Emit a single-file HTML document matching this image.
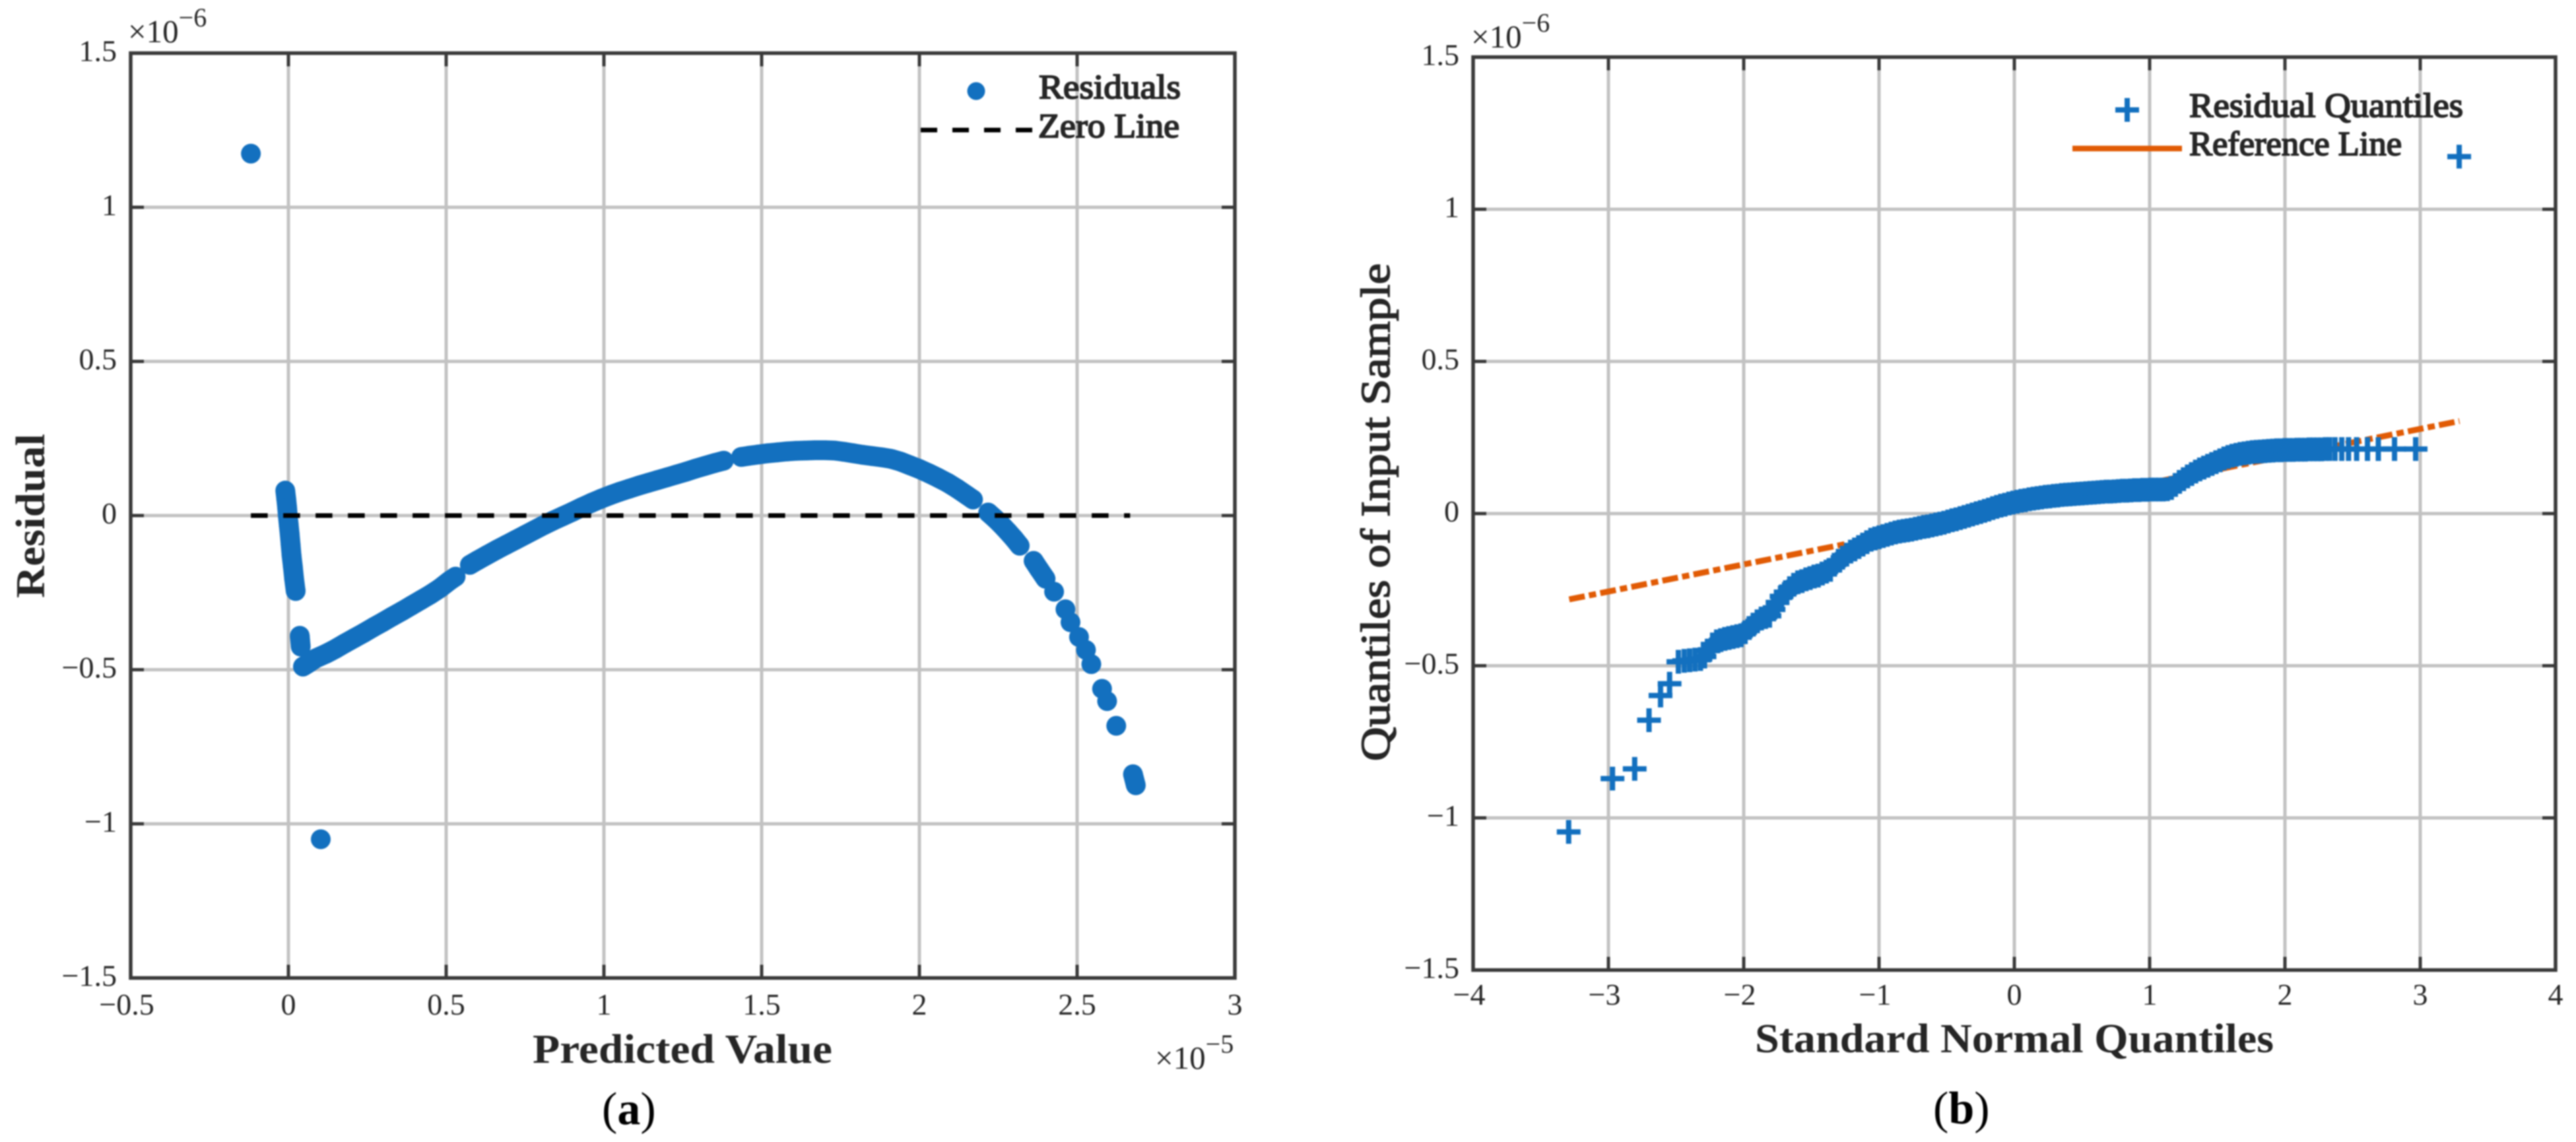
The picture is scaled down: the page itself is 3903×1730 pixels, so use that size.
<!DOCTYPE html>
<html lang="en">
<head>
<meta charset="utf-8">
<title>Residual plot and Q-Q plot</title>
<style>
html,body{margin:0;padding:0;background:#fff;}
body{width:3903px;height:1730px;overflow:hidden;}
svg{display:block;filter:blur(1px);}
text{font-family:"Liberation Serif",serif;fill:#262626;}
.tick{font-size:46px;}
.axis-title{font-size:62px;font-weight:bold;}
.axis-title-medium{font-size:62px;stroke:#262626;stroke-width:1.6px;}
.legend-text{font-size:52px;stroke:#262626;stroke-width:2px;}
.exp{font-size:49px;}
.exp-sup{font-size:40px;}
.caption{font-size:70px;fill:#000;}
</style>
</head>
<body>
<svg xmlns="http://www.w3.org/2000/svg" width="3903" height="1730" viewBox="0 0 3903 1730">
  <rect width="3903" height="1730" fill="#fff"/>

  <g id="panel-a">
    <g id="a-grid"></g>
    <g id="a-points"></g>
    <g id="a-zero"></g>
    <g id="a-axes"></g>
    <g id="a-labels"></g>
    <text class="exp" x="194" y="64">×10<tspan class="exp-sup" dy="-24">−6</tspan></text>
    <text class="exp" x="1750" y="1619">×10<tspan class="exp-sup" dy="-24">−5</tspan></text>
    <text class="axis-title" x="807" y="1610" textLength="454" lengthAdjust="spacingAndGlyphs">Predicted Value</text>
    <text class="axis-title" transform="translate(67,906) rotate(-90)" textLength="249" lengthAdjust="spacingAndGlyphs">Residual</text>
    <circle cx="1479" cy="138" r="13.5" fill="#1370bf"/>
    <text class="legend-text" x="1574" y="149" textLength="215" lengthAdjust="spacingAndGlyphs">Residuals</text>
    <line x1="1395" y1="197" x2="1565" y2="197" stroke="#000" stroke-width="7" stroke-dasharray="25 23"/>
    <text class="legend-text" x="1573" y="208" textLength="214" lengthAdjust="spacingAndGlyphs">Zero Line</text>
    <text class="caption" x="912" y="1703">(<tspan font-weight="bold">a</tspan>)</text>
  </g>

  <g id="panel-b">
    <g id="b-grid"></g>
    <g id="b-ref"></g>
    <g id="b-points"></g>
    <g id="b-axes"></g>
    <g id="b-labels"></g>
    <text class="exp" x="2229" y="72">×10<tspan class="exp-sup" dy="-24">−6</tspan></text>
    <text class="axis-title" x="2659" y="1594" textLength="786" lengthAdjust="spacingAndGlyphs">Standard Normal Quantiles</text>
    <text class="axis-title-medium" transform="translate(2105,1153) rotate(-90)" textLength="754" lengthAdjust="spacingAndGlyphs">Quantiles of Input Sample</text>
    <path d="M3205 166.5H3241M3223 148.5V184.5" stroke="#1370bf" stroke-width="8" fill="none"/>
    <text class="legend-text" x="3317" y="177" textLength="415" lengthAdjust="spacingAndGlyphs">Residual Quantiles</text>
    <line x1="3140" y1="225" x2="3306" y2="225" stroke="#e15b05" stroke-width="8.5"/>
    <text class="legend-text" x="3317" y="235" textLength="322" lengthAdjust="spacingAndGlyphs">Reference Line</text>
    <text class="caption" x="2929" y="1702">(<tspan font-weight="bold">b</tspan>)</text>
  </g>
</svg>

<script>
// ---------- panel (a) data: x in units of 1e-5, y in units of 1e-6 ----------
const aXTicks = [-0.5, 0, 0.5, 1, 1.5, 2, 2.5, 3];
const aXTickLabels = ["−0.5", "0", "0.5", "1", "1.5", "2", "2.5", "3"];
const yTicks = [-1.5, -1, -0.5, 0, 0.5, 1, 1.5];
const yTickLabels = ["−1.5", "−1", "−0.5", "0", "0.5", "1", "1.5"];

const residX = [-0.119, 0.1025,
  -0.010,-0.007,-0.004,-0.002,0.001,0.004,0.007,0.010,0.014,0.018,0.023,0.036,0.039,
  0.046,0.065,0.085,0.12,0.15,0.18,0.21,0.24,0.27,0.30,0.33,0.36,0.39,0.42,0.45,0.48,0.51,0.53,
  0.575,0.60,0.63,0.66,0.69,0.72,0.75,0.78,0.81,0.84,0.87,0.90,0.93,0.96,0.99,1.02,1.05,1.08,1.11,1.14,1.17,1.20,1.23,1.26,1.29,1.32,1.35,1.38,
  1.435,1.46,1.49,1.52,1.55,1.58,1.61,1.64,1.67,1.70,1.73,1.76,1.79,1.82,1.85,1.88,1.91,1.94,1.97,2.00,2.03,2.06,2.09,2.12,2.15,2.17,
  2.218,2.24,2.26,2.28,2.30,2.318,
  2.362,2.38,2.40,2.427,2.463,2.479,2.506,2.528,2.545,2.579,2.595,2.624,2.677,2.686];
const residY = [1.174, -1.05,
  0.081,0.055,0.025,0.000,-0.030,-0.060,-0.095,-0.130,-0.165,-0.205,-0.245,-0.390,-0.425,
  -0.490,-0.478,-0.464,-0.448,-0.432,-0.414,-0.397,-0.380,-0.362,-0.345,-0.327,-0.310,-0.292,-0.274,-0.256,-0.236,-0.212,-0.198,
  -0.160,-0.145,-0.128,-0.111,-0.095,-0.079,-0.063,-0.047,-0.031,-0.016,-0.002,0.012,0.027,0.041,0.054,0.066,0.077,0.087,0.097,0.106,0.115,0.124,0.133,0.142,0.152,0.161,0.170,0.178,
  0.190,0.194,0.198,0.202,0.205,0.208,0.210,0.211,0.212,0.212,0.211,0.207,0.202,0.197,0.193,0.189,0.184,0.175,0.163,0.151,0.137,0.122,0.106,0.087,0.066,0.052,
  0.010,-0.010,-0.030,-0.052,-0.075,-0.098,
  -0.147,-0.175,-0.205,-0.247,-0.304,-0.346,-0.394,-0.436,-0.482,-0.562,-0.602,-0.682,-0.839,-0.875];
const zeroLineX = [-0.119, 2.668];
const zeroLineY = [0, 0];

// ---------- panel (b) data: x = normal quantile, y in units of 1e-6 ----------
const bXTicks = [-4, -3, -2, -1, 0, 1, 2, 3, 4];
const bXTickLabels = ["−4", "−3", "−2", "−1", "0", "1", "2", "3", "4"];
const qqX = [-3.294,-2.97,-2.806,-2.70,-2.615,-2.548,-2.483,-2.44,-2.40,-2.36,-2.32,-2.29,
  -2.26,-2.23,-2.20,-2.17,-2.14,-2.11,-2.08,-2.05,-2.02,-1.99,-1.96,-1.93,-1.90,-1.87,-1.84,-1.81,-1.78,-1.75,-1.72,-1.69,-1.66,-1.63,-1.60,-1.57,-1.54,-1.51,-1.48,-1.45,-1.42,-1.39,-1.36,-1.33,-1.30,-1.27,-1.24,-1.21,-1.18,-1.15,-1.12,-1.09,-1.06,-1.03,-1.00,-0.97,-0.94,-0.91,-0.88,-0.85,
  -0.82,-0.79,-0.76,-0.73,-0.70,-0.67,-0.64,-0.61,-0.58,-0.55,-0.52,-0.49,-0.46,-0.43,-0.40,-0.37,-0.34,-0.31,-0.28,-0.25,-0.22,-0.19,-0.16,-0.13,-0.10,-0.07,-0.04,-0.01,0.02,0.05,0.08,0.11,0.14,0.17,0.20,0.23,0.26,0.29,0.32,0.35,0.38,0.41,0.44,0.47,0.50,0.53,0.56,0.59,0.62,0.65,0.68,0.71,0.74,0.77,0.80,0.83,0.86,0.89,0.92,0.95,0.98,1.01,1.04,1.07,1.10,1.13,1.16,1.19,1.22,1.25,1.28,1.31,1.34,1.37,1.40,1.43,1.46,1.49,1.52,1.55,1.58,1.61,1.64,1.67,1.70,1.73,1.76,1.79,1.82,1.85,1.88,1.91,1.94,1.97,2.00,2.03,2.06,2.09,2.12,2.15,2.18,2.21,2.24,2.27,2.30,2.33,2.37,2.42,2.47,2.53,2.61,2.69,2.81,2.966,3.288];
const qqY = [-1.046,-0.871,-0.839,-0.679,-0.598,-0.559,-0.487,-0.484,-0.482,-0.480,-0.478,-0.470,
  -0.450,-0.430,-0.420,-0.416,-0.412,-0.409,-0.406,-0.403,-0.400,-0.390,-0.376,-0.365,-0.354,-0.345,-0.340,-0.336,-0.315,-0.292,-0.272,-0.258,-0.245,-0.234,-0.226,-0.222,-0.216,-0.212,-0.207,-0.204,-0.197,-0.191,-0.185,-0.168,-0.155,-0.145,-0.135,-0.125,-0.118,-0.110,-0.102,-0.094,-0.086,-0.082,-0.078,-0.074,-0.070,-0.066,-0.062,-0.059,
  -0.057,-0.055,-0.053,-0.050,-0.047,-0.044,-0.042,-0.039,-0.036,-0.033,-0.030,-0.026,-0.022,-0.019,-0.015,-0.011,-0.007,-0.003,0.001,0.005,0.009,0.013,0.018,0.022,0.026,0.029,0.033,0.036,0.039,0.042,0.044,0.047,0.049,0.051,0.053,0.055,0.056,0.058,0.059,0.061,0.062,0.063,0.064,0.065,0.066,0.067,0.068,0.069,0.070,0.071,0.072,0.072,0.073,0.074,0.075,0.075,0.076,0.077,0.077,0.078,0.078,0.079,0.079,0.079,0.079,0.080,0.084,0.094,0.104,0.113,0.122,0.130,0.138,0.145,0.151,0.157,0.163,0.169,0.175,0.181,0.186,0.190,0.193,0.196,0.198,0.200,0.202,0.203,0.204,0.205,0.206,0.207,0.208,0.208,0.209,0.209,0.209,0.210,0.210,0.210,0.211,0.211,0.211,0.211,0.212,0.212,0.212,0.212,0.212,0.212,0.212,0.212,0.212,0.212,1.173];
const refLineX = [-3.29, 3.29];
const refLineY = [-0.282, 0.304];

// ---------- axis functions ----------
const NS = "http://www.w3.org/2000/svg";
const ax = v => 198 + (v + 0.5) * 478;
const ay = v => 781 - v * 467;
const bx = v => 3052 + v * 205;
const by = v => 778 - v * 461;

function make(tag, attrs, parent) {
  const el = document.createElementNS(NS, tag);
  for (const k in attrs) el.setAttribute(k, attrs[k]);
  parent.appendChild(el);
  return el;
}

function drawFrame(gridG, axesG, labelsG, sx, sy, xTicks, xLabels, xLabelY) {
  const L = sx(xTicks[0]), R = sx(xTicks[xTicks.length - 1]);
  const T = sy(yTicks[yTicks.length - 1]), B = sy(yTicks[0]);
  const gridStyle = {stroke: "#c2c2c2", "stroke-width": 5};
  const tickStyle = {stroke: "#3a3a3a", "stroke-width": 5};

  xTicks.forEach((v, i) => {
    const x = sx(v);
    if (i > 0 && i < xTicks.length - 1) {
      const g = make("line", Object.assign({x1: x, x2: x, y1: T, y2: B}, gridStyle), gridG);
      
      
      const t1 = make("line", Object.assign({x1: x, x2: x, y1: T, y2: T + 20}, tickStyle), axesG);
      
      
      const t2 = make("line", Object.assign({x1: x, x2: x, y1: B, y2: B - 20}, tickStyle), axesG);
      
      
    }
    const label = make("text", {x: x - (xLabels[i][0] === "−" ? 6 : 0), y: xLabelY, "text-anchor": "middle", class: "tick"}, labelsG);
    
    
    label.textContent = xLabels[i];
  });

  yTicks.forEach((v, i) => {
    const y = sy(v);
    if (i > 0 && i < yTicks.length - 1) {
      const g = make("line", Object.assign({x1: L, x2: R, y1: y, y2: y}, gridStyle), gridG);
      
      
      const t1 = make("line", Object.assign({x1: L, x2: L + 20, y1: y, y2: y}, tickStyle), axesG);
      
      
      const t2 = make("line", Object.assign({x1: R, x2: R - 20, y1: y, y2: y}, tickStyle), axesG);
      
      
    }
    const label = make("text", {x: L - 21, y: y + 12, "text-anchor": "end", class: "tick"}, labelsG);
    
    
    label.textContent = yTickLabels[i];
  });

  const box = make("rect", {x: L, y: T, width: R - L, height: B - T, fill: "none", stroke: "#3a3a3a", "stroke-width": 5.5}, axesG);
  
  
}

// panel (a)
drawFrame(document.getElementById("a-grid"), document.getElementById("a-axes"), document.getElementById("a-labels"), ax, ay, aXTicks, aXTickLabels, 1537);
residX.forEach((v, i) => {
  const c = make("circle", {cx: ax(v), cy: ay(residY[i]), r: 15, fill: "#1370bf"}, document.getElementById("a-points"));
  
  
  // densely sampled neighbours merge into a continuous band, as in the original scatter
  if (i > 0) {
    const dx = ax(v) - ax(residX[i - 1]), dy = ay(residY[i]) - ay(residY[i - 1]);
    if (Math.hypot(dx, dy) < 20) {
      const s = make("line", {x1: ax(residX[i - 1]), y1: ay(residY[i - 1]), x2: ax(v), y2: ay(residY[i]), stroke: "#1370bf", "stroke-width": 30}, document.getElementById("a-points"));
      
      
    }
  }
});
const zeroLine = make("line", {x1: ax(zeroLineX[0]), y1: ay(zeroLineY[0]), x2: ax(zeroLineX[1]), y2: ay(zeroLineY[1]), stroke: "#000", "stroke-width": 7, "stroke-dasharray": "25.5 23.5"}, document.getElementById("a-zero"));



// panel (b)
drawFrame(document.getElementById("b-grid"), document.getElementById("b-axes"), document.getElementById("b-labels"), bx, by, bXTicks, bXTickLabels, 1522);
const refLine = make("line", {x1: bx(refLineX[0]), y1: by(refLineY[0]), x2: bx(refLineX[1]), y2: by(refLineY[1]), stroke: "#e15b05", "stroke-width": 9, "stroke-dasharray": "24 6.5 11 6.5"}, document.getElementById("b-ref"));


qqX.forEach((v, i) => {
  const x = bx(v), y = by(qqY[i]);
  const p = make("path", {d: "M" + (x - 18) + " " + y + "H" + (x + 18) + "M" + x + " " + (y - 18) + "V" + (y + 18), stroke: "#1370bf", "stroke-width": 8, fill: "none"}, document.getElementById("b-points"));
  
  
});
</script>
</body>
</html>
